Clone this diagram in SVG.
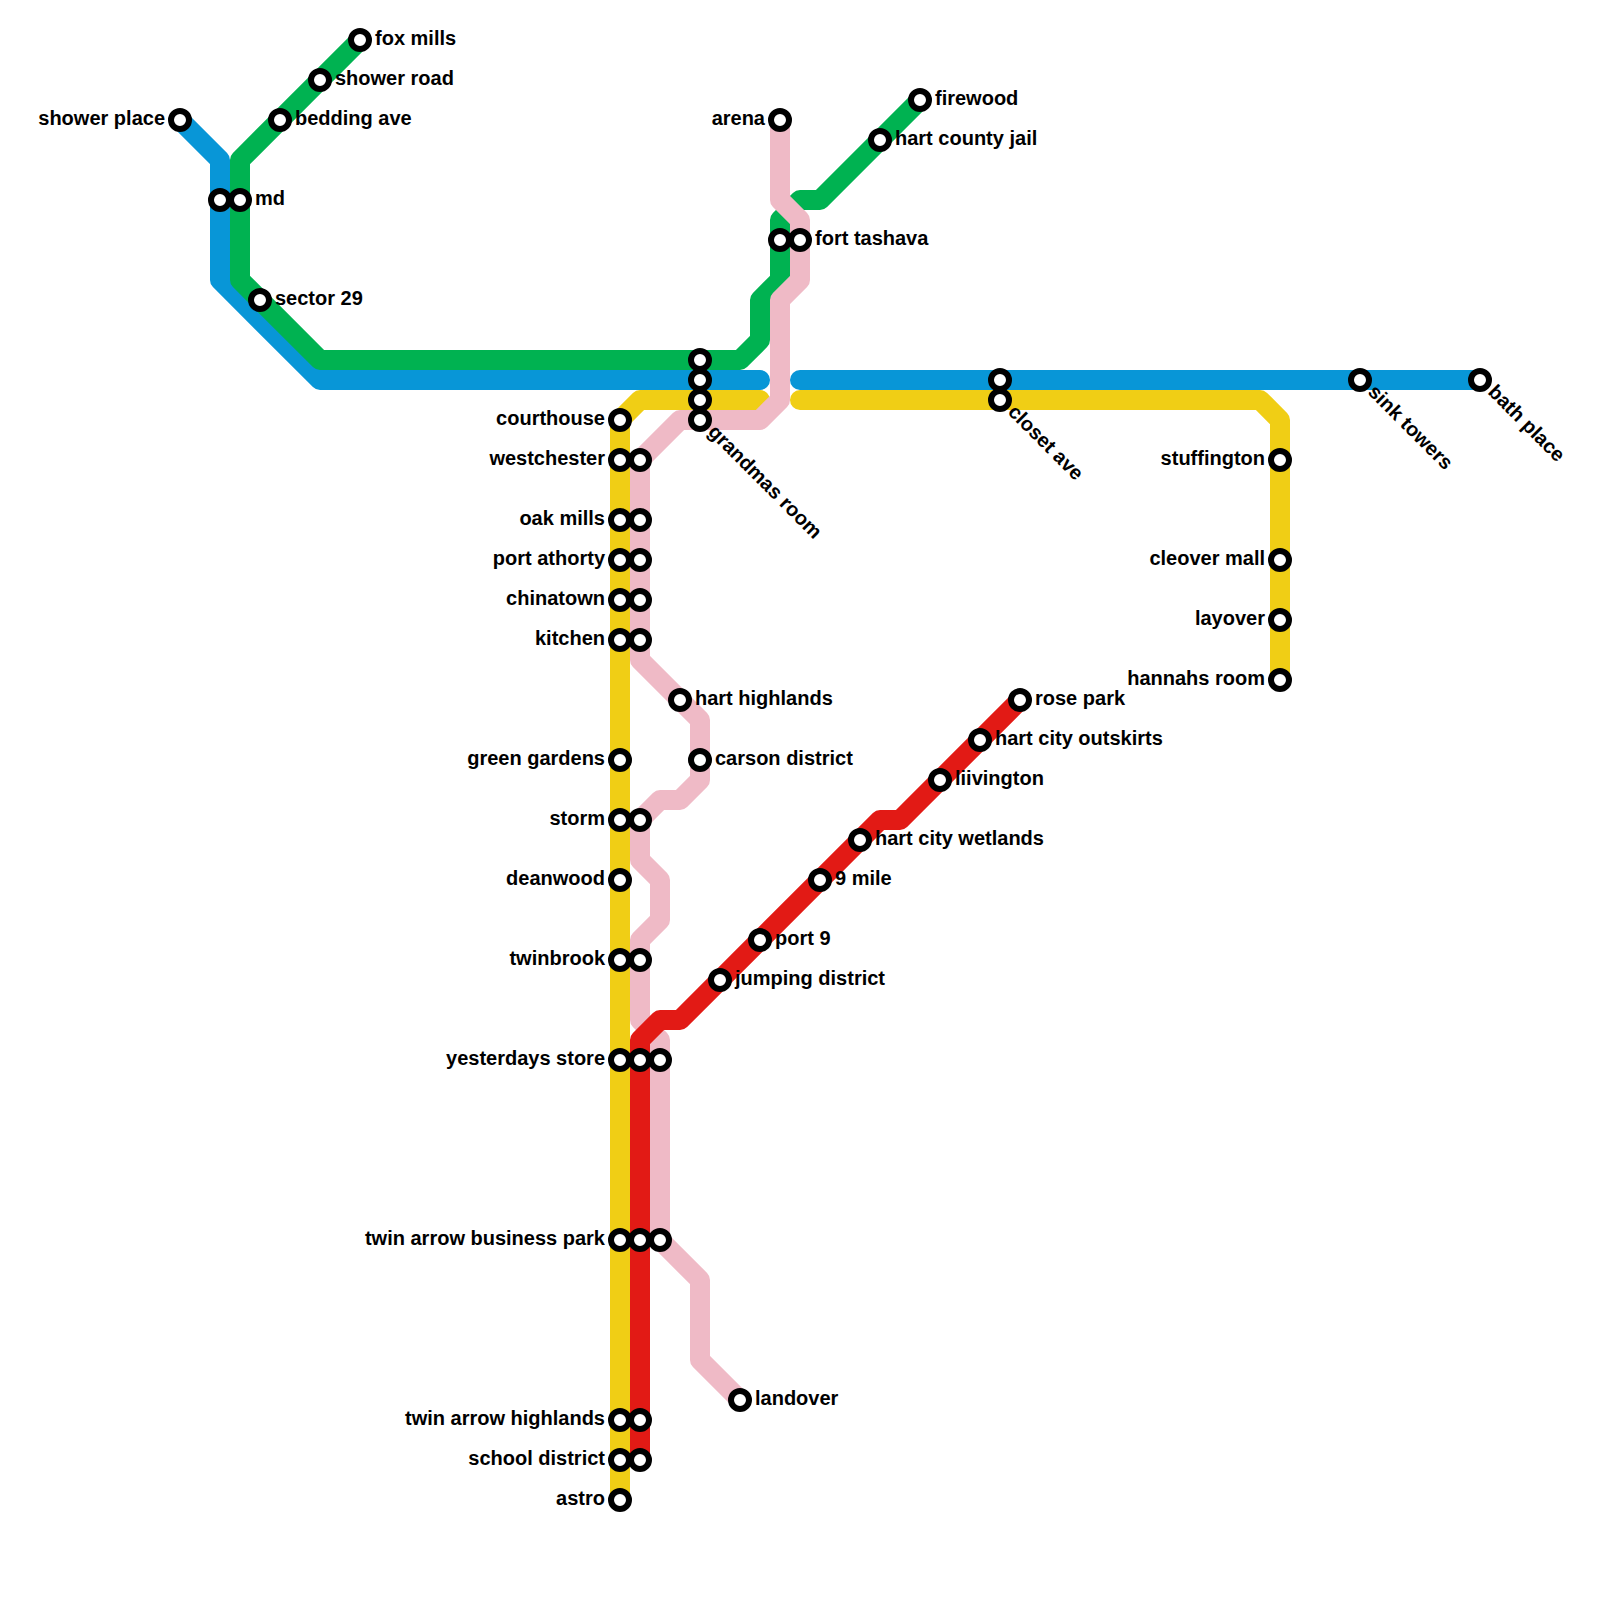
<svg xmlns="http://www.w3.org/2000/svg" width="1600" height="1600" viewBox="0 0 1600 1600">
<style>
.l{fill:none;stroke-width:20;stroke-linecap:round;stroke-linejoin:round}
.s{fill:#fff;stroke:#000;stroke-width:6}
text{font-family:"Liberation Sans",Arial,sans-serif;font-weight:700;font-size:20px;fill:#000}
.e{text-anchor:end}
</style>
<rect width="1600" height="1600" fill="#fff"/>
<g id="connectors">
<path class="l" stroke="#f0ce15" d="M620 1500V420L640 400H760"/>
<path class="l" stroke="#f0ce15" d="M800 400H1260L1280 420V680"/>
<path class="l" stroke="#0896d7" d="M180 120L220 160V280L320 380H760"/>
<path class="l" stroke="#0896d7" d="M800 380H1480"/>
<path class="l" stroke="#00b251" d="M360 40L240 160V280L320 360H740L760 340V300L780 280V220L800 200H820L920 100"/>
<path class="l" stroke="#efbac6" d="M780 120V200L800 220V280L780 300V400L760 420H680L640 460V660L700 720V780L680 800H660L640 820V860L660 880V920L640 940V1020L660 1040V1240L700 1280V1360L740 1400"/>
<path class="l" stroke="#e21a15" d="M1020 700L900 820H880L680 1020H660L640 1040V1460"/>
</g>
<g id="shower-place"><circle class="s" cx="180" cy="120" r="9"/><text class="e" x="165" y="125">shower place</text></g>
<g id="md"><circle class="s" cx="220" cy="200" r="9"/><circle class="s" cx="240" cy="200" r="9"/><text x="255" y="205">md</text></g>
<g id="fox-mills"><circle class="s" cx="360" cy="40" r="9"/><text x="375" y="45">fox mills</text></g>
<g id="shower-road"><circle class="s" cx="320" cy="80" r="9"/><text x="335" y="85">shower road</text></g>
<g id="bedding-ave"><circle class="s" cx="280" cy="120" r="9"/><text x="295" y="125">bedding ave</text></g>
<g id="sector-29"><circle class="s" cx="260" cy="300" r="9"/><text x="275" y="305">sector 29</text></g>
<g id="arena"><circle class="s" cx="780" cy="120" r="9"/><text class="e" x="765" y="125">arena</text></g>
<g id="fort-tashava"><circle class="s" cx="780" cy="240" r="9"/><circle class="s" cx="800" cy="240" r="9"/><text x="815" y="245">fort tashava</text></g>
<g id="firewood"><circle class="s" cx="920" cy="100" r="9"/><text x="935" y="105">firewood</text></g>
<g id="hart-county-jail"><circle class="s" cx="880" cy="140" r="9"/><text x="895" y="145">hart county jail</text></g>
<g id="grandmas-room"><circle class="s" cx="700" cy="360" r="9"/><circle class="s" cx="700" cy="380" r="9"/><circle class="s" cx="700" cy="400" r="9"/><circle class="s" cx="700" cy="420" r="9"/><text transform="translate(707 433) rotate(45)">grandmas room</text></g>
<g id="closet-ave"><circle class="s" cx="1000" cy="380" r="9"/><circle class="s" cx="1000" cy="400" r="9"/><text transform="translate(1007 413) rotate(45)">closet ave</text></g>
<g id="sink-towers"><circle class="s" cx="1360" cy="380" r="9"/><text transform="translate(1367 393) rotate(45)">sink towers</text></g>
<g id="bath-place"><circle class="s" cx="1480" cy="380" r="9"/><text transform="translate(1487 393) rotate(45)">bath place</text></g>
<g id="stuffington"><circle class="s" cx="1280" cy="460" r="9"/><text class="e" x="1265" y="465">stuffington</text></g>
<g id="cleover-mall"><circle class="s" cx="1280" cy="560" r="9"/><text class="e" x="1265" y="565">cleover mall</text></g>
<g id="layover"><circle class="s" cx="1280" cy="620" r="9"/><text class="e" x="1265" y="625">layover</text></g>
<g id="hannahs-room"><circle class="s" cx="1280" cy="680" r="9"/><text class="e" x="1265" y="685">hannahs room</text></g>
<g id="courthouse"><circle class="s" cx="620" cy="420" r="9"/><text class="e" x="605" y="425">courthouse</text></g>
<g id="westchester"><circle class="s" cx="620" cy="460" r="9"/><circle class="s" cx="640" cy="460" r="9"/><text class="e" x="605" y="465">westchester</text></g>
<g id="oak-mills"><circle class="s" cx="620" cy="520" r="9"/><circle class="s" cx="640" cy="520" r="9"/><text class="e" x="605" y="525">oak mills</text></g>
<g id="port-athorty"><circle class="s" cx="620" cy="560" r="9"/><circle class="s" cx="640" cy="560" r="9"/><text class="e" x="605" y="565">port athorty</text></g>
<g id="chinatown"><circle class="s" cx="620" cy="600" r="9"/><circle class="s" cx="640" cy="600" r="9"/><text class="e" x="605" y="605">chinatown</text></g>
<g id="kitchen"><circle class="s" cx="620" cy="640" r="9"/><circle class="s" cx="640" cy="640" r="9"/><text class="e" x="605" y="645">kitchen</text></g>
<g id="green-gardens"><circle class="s" cx="620" cy="760" r="9"/><text class="e" x="605" y="765">green gardens</text></g>
<g id="storm"><circle class="s" cx="620" cy="820" r="9"/><circle class="s" cx="640" cy="820" r="9"/><text class="e" x="605" y="825">storm</text></g>
<g id="deanwood"><circle class="s" cx="620" cy="880" r="9"/><text class="e" x="605" y="885">deanwood</text></g>
<g id="twinbrook"><circle class="s" cx="620" cy="960" r="9"/><circle class="s" cx="640" cy="960" r="9"/><text class="e" x="605" y="965">twinbrook</text></g>
<g id="yesterdays-store"><circle class="s" cx="620" cy="1060" r="9"/><circle class="s" cx="640" cy="1060" r="9"/><circle class="s" cx="660" cy="1060" r="9"/><text class="e" x="605" y="1065">yesterdays store</text></g>
<g id="twin-arrow-business-park"><circle class="s" cx="620" cy="1240" r="9"/><circle class="s" cx="640" cy="1240" r="9"/><circle class="s" cx="660" cy="1240" r="9"/><text class="e" x="605" y="1245">twin arrow business park</text></g>
<g id="twin-arrow-highlands"><circle class="s" cx="620" cy="1420" r="9"/><circle class="s" cx="640" cy="1420" r="9"/><text class="e" x="605" y="1425">twin arrow highlands</text></g>
<g id="school-district"><circle class="s" cx="620" cy="1460" r="9"/><circle class="s" cx="640" cy="1460" r="9"/><text class="e" x="605" y="1465">school district</text></g>
<g id="astro"><circle class="s" cx="620" cy="1500" r="9"/><text class="e" x="605" y="1505">astro</text></g>
<g id="hart-highlands"><circle class="s" cx="680" cy="700" r="9"/><text x="695" y="705">hart highlands</text></g>
<g id="carson-district"><circle class="s" cx="700" cy="760" r="9"/><text x="715" y="765">carson district</text></g>
<g id="landover"><circle class="s" cx="740" cy="1400" r="9"/><text x="755" y="1405">landover</text></g>
<g id="jumping-district"><circle class="s" cx="720" cy="980" r="9"/><text x="735" y="985">jumping district</text></g>
<g id="port-9"><circle class="s" cx="760" cy="940" r="9"/><text x="775" y="945">port 9</text></g>
<g id="nine-mile"><circle class="s" cx="820" cy="880" r="9"/><text x="835" y="885">9 mile</text></g>
<g id="hart-city-wetlands"><circle class="s" cx="860" cy="840" r="9"/><text x="875" y="845">hart city wetlands</text></g>
<g id="liivington"><circle class="s" cx="940" cy="780" r="9"/><text x="955" y="785">liivington</text></g>
<g id="hart-city-outskirts"><circle class="s" cx="980" cy="740" r="9"/><text x="995" y="745">hart city outskirts</text></g>
<g id="rose-park"><circle class="s" cx="1020" cy="700" r="9"/><text x="1035" y="705">rose park</text></g>
</svg>
